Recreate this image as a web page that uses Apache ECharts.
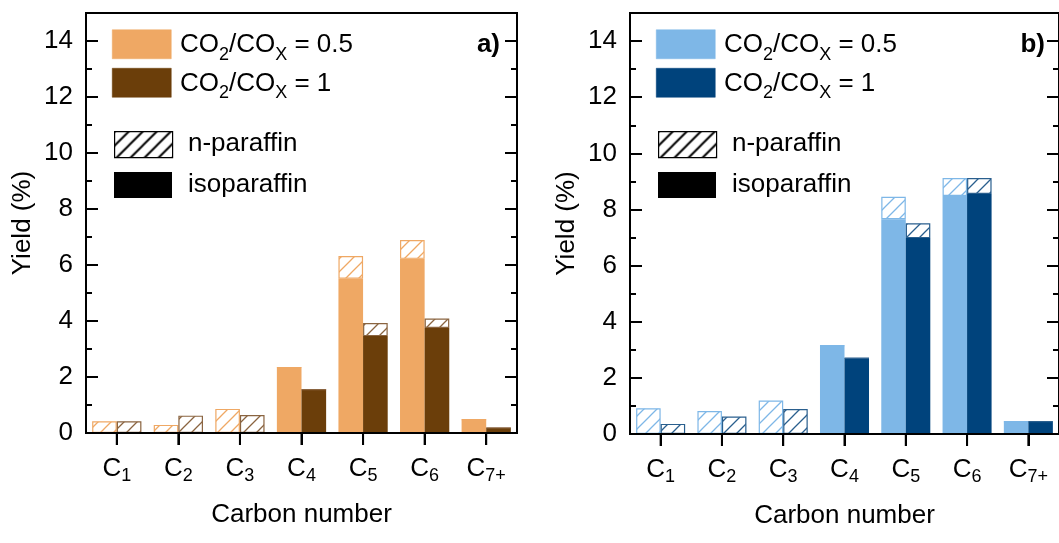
<!DOCTYPE html>
<html>
<head>
<meta charset="utf-8">
<script src="https://cdn.jsdelivr.net/npm/echarts@6/dist/echarts.min.js"></script>
<style>
html,body{margin:0;padding:0;background:#fff;}
#chart{width:1059px;height:543px;}
</style>
</head>
<body>
<div id="chart"></div>
<script>
// ---------- data ----------
const categories = ['1', '2', '3', '4', '5', '6', '7+'];   // subscripts of C
const yTicksMax = 15;

// panel a) (orange / brown)
const a_iso_05 = [0, 0, 0, 2.34, 5.51, 6.22, 0.48];
const a_n_05   = [0.42, 0.29, 0.86, 0, 0.81, 0.67, 0];
const a_iso_1  = [0, 0, 0, 1.55, 3.46, 3.75, 0.18];
const a_n_1    = [0.42, 0.62, 0.64, 0, 0.47, 0.34, 0];

// panel b) (light blue / dark blue)
const b_iso_05 = [0, 0, 0, 3.15, 7.65, 8.48, 0.44];
const b_n_05   = [0.92, 0.82, 1.19, 0, 0.80, 0.64, 0];
const b_iso_1  = [0, 0, 0, 2.70, 6.98, 8.55, 0.44];
const b_n_1    = [0.36, 0.62, 0.89, 0, 0.53, 0.57, 0];

const legendLabels = ['0.5', '1'];
const typeLabels = ['n-paraffin', 'isoparaffin'];
const panelLabels = ['a)', 'b)'];

// ---------- styles ----------
const FONT = '"Liberation Sans", Arial, Helvetica, sans-serif';
const C_ORANGE = '#EFA864';
const C_BROWN = '#6B3E0A';
const C_LBLUE = '#7EB7E7';
const C_DBLUE = '#00437C';

function hatch(color, size, lw) {
  const c = document.createElement('canvas');
  c.width = size; c.height = size;
  const g = c.getContext('2d');
  g.fillStyle = '#fff';
  g.fillRect(0, 0, size, size);
  g.strokeStyle = color;
  g.lineWidth = lw;
  g.beginPath();
  g.moveTo(0, size); g.lineTo(size, 0);
  g.moveTo(-2, 2); g.lineTo(2, -2);
  g.moveTo(size - 2, size + 2); g.lineTo(size + 2, size - 2);
  g.stroke();
  return c;
}

const chart = echarts.init(document.getElementById('chart'), null, {renderer: 'canvas'});

const grids = [
  {left: 86, top: 13, width: 431, height: 420},
  {left: 630, top: 13, width: 432, height: 421}
];

function xAxisFor(i) {
  return {
    type: 'category', gridIndex: i, data: categories, position: 'bottom', z: 10,
    axisLine: {show: true, onZero: false, lineStyle: {color: '#000', width: 2}},
    axisTick: {show: true, alignWithLabel: true, interval: 0, length: 12, lineStyle: {color: '#000', width: 2}},
    axisLabel: {
      interval: 0, margin: 20, color: '#000', fontFamily: FONT, fontSize: 26, lineHeight: 32,
      formatter: v => 'C{s|' + v + '}',
      rich: {s: {fontSize: 18, lineHeight: 18, verticalAlign: 'bottom', fontFamily: FONT, color: '#000'}}
    },
    name: 'Carbon number', nameLocation: 'middle', nameGap: 69,
    nameTextStyle: {color: '#000', fontFamily: FONT, fontSize: 26},
    splitLine: {show: false}
  };
}

function yAxesFor(i) {
  const base = {type: 'value', gridIndex: i, min: 0, max: yTicksMax, splitLine: {show: false}, z: 10};
  return [
    Object.assign({}, base, {
      position: 'left', interval: 2,
      axisLine: {show: true, lineStyle: {color: '#000', width: 2}},
      axisTick: {show: true, inside: true, length: 12, lineStyle: {color: '#000', width: 2}},
      axisLabel: {margin: 13, color: '#000', fontFamily: FONT, fontSize: 26,
        formatter: v => (v === yTicksMax ? '' : String(v))},
      name: 'Yield (%)', nameLocation: 'middle', nameGap: 50, nameRotate: 90,
      nameTextStyle: {color: '#000', fontFamily: FONT, fontSize: 26}
    }),
    Object.assign({}, base, {
      position: 'left', interval: 1,
      axisLine: {show: false},
      axisTick: {show: true, inside: true, length: 6, lineStyle: {color: '#000', width: 2}},
      axisLabel: {show: false}
    }),
    Object.assign({}, base, {
      position: 'right', interval: 2,
      axisLine: {show: true, lineStyle: {color: '#000', width: 2}},
      axisTick: {show: true, inside: true, length: 12, lineStyle: {color: '#000', width: 2}},
      axisLabel: {show: false}
    }),
    Object.assign({}, base, {
      position: 'right', interval: 1,
      axisLine: {show: false},
      axisTick: {show: true, inside: true, length: 6, lineStyle: {color: '#000', width: 2}},
      axisLabel: {show: false}
    })
  ];
}

function barSeries(grid, data, stack, color, hatched, hatchColor) {
  return {
    type: 'bar', xAxisIndex: grid, yAxisIndex: grid * 4, stack: stack + grid,
    data: data, barGap: '0%', barCategoryGap: '20%',
    itemStyle: hatched
      ? {color: {image: hatch(hatchColor, 13, 1.3), repeat: 'repeat'}, borderColor: hatchColor, borderWidth: 1.2}
      : {color: color},
    emphasis: {disabled: true},
    silent: true, animation: false
  };
}

const series = [
  barSeries(0, a_iso_05, 'lo', C_ORANGE, false),
  barSeries(0, a_n_05, 'lo', C_ORANGE, true, C_ORANGE),
  barSeries(0, a_iso_1, 'hi', C_BROWN, false),
  barSeries(0, a_n_1, 'hi', C_BROWN, true, '#8A6440'),
  barSeries(1, b_iso_05, 'lo', C_LBLUE, false),
  barSeries(1, b_n_05, 'lo', C_LBLUE, true, C_LBLUE),
  barSeries(1, b_iso_1, 'hi', C_DBLUE, false),
  barSeries(1, b_n_1, 'hi', C_DBLUE, true, '#2A5F8E')
];

// ---------- legends (graphic) ----------
const legendRich = {
  m: {fontSize: 26, lineHeight: 38, fontFamily: FONT, color: '#000', verticalAlign: 'middle'},
  s: {fontSize: 18, lineHeight: 18, fontFamily: FONT, color: '#000', verticalAlign: 'bottom'}
};
function legendGraphic(i, colors) {
  const x0 = grids[i].left;
  const g = [];
  const rows = [44, 82.5];
  legendLabels.forEach((lab, k) => {
    g.push({type: 'rect', left: x0 + 26, top: rows[k] - 14.5, shape: {width: 59, height: 29},
      style: {fill: colors[k], stroke: colors[k], lineWidth: 0.5}, silent: true});
    g.push({type: 'text', x: x0 + 94, y: rows[k] + 1, silent: true,
      style: {text: '{m|CO}{s|2}{m|/CO}{s|X}{m| = ' + lab + '}', rich: legendRich,
        verticalAlign: 'middle', align: 'left'}});
  });
  const rows2 = [144, 185];
  g.push({type: 'rect', left: x0 + 28, top: rows2[0] - 13, shape: {width: 58, height: 26},
    style: {fill: {image: hatch('#000', 14, 2), repeat: 'repeat'}, stroke: '#000', lineWidth: 1.2}, silent: true});
  g.push({type: 'rect', left: x0 + 28, top: rows2[1] - 13, shape: {width: 58, height: 26},
    style: {fill: '#000'}, silent: true});
  typeLabels.forEach((lab, k) => {
    g.push({type: 'text', x: x0 + 102, y: rows2[k], silent: true,
      style: {text: lab, font: '26px ' + FONT, fill: '#000', verticalAlign: 'middle', align: 'left'}});
  });
  g.push({type: 'text', x: grids[i].left + grids[i].width - 17, y: 45, silent: true,
    style: {text: panelLabels[i], font: 'bold 26px ' + FONT, fill: '#000', verticalAlign: 'middle', align: 'right'}});
  return g;
}

const legendGfx = legendGraphic(0, [C_ORANGE, C_BROWN]).concat(legendGraphic(1, [C_LBLUE, C_DBLUE]));

const option = {
  backgroundColor: '#fff',
  animation: false,
  grid: grids.map(g => Object.assign({show: true, borderColor: '#000', borderWidth: 2, backgroundColor: 'transparent'}, g)),
  xAxis: [xAxisFor(0), xAxisFor(1)],
  yAxis: yAxesFor(0).concat(yAxesFor(1)),
  series: series,
  graphic: legendGfx
};
chart.setOption(option);

// outward x-axis ticks at category centres, positioned through the category scale
const tickGfx = [];
[0, 1].forEach(gi => {
  const y0 = chart.convertToPixel({yAxisIndex: gi * 4}, 0);
  categories.forEach((c, k) => {
    const x = chart.convertToPixel({xAxisIndex: gi}, k);
    if (isFinite(x) && isFinite(y0)) {
      tickGfx.push({type: 'line', silent: true, z: 50,
        shape: {x1: x, y1: y0, x2: x, y2: y0 + 12},
        style: {stroke: '#000', lineWidth: 2}});
    }
  });
});
chart.setOption({graphic: legendGfx.concat(tickGfx)});
</script>
</body>
</html>
